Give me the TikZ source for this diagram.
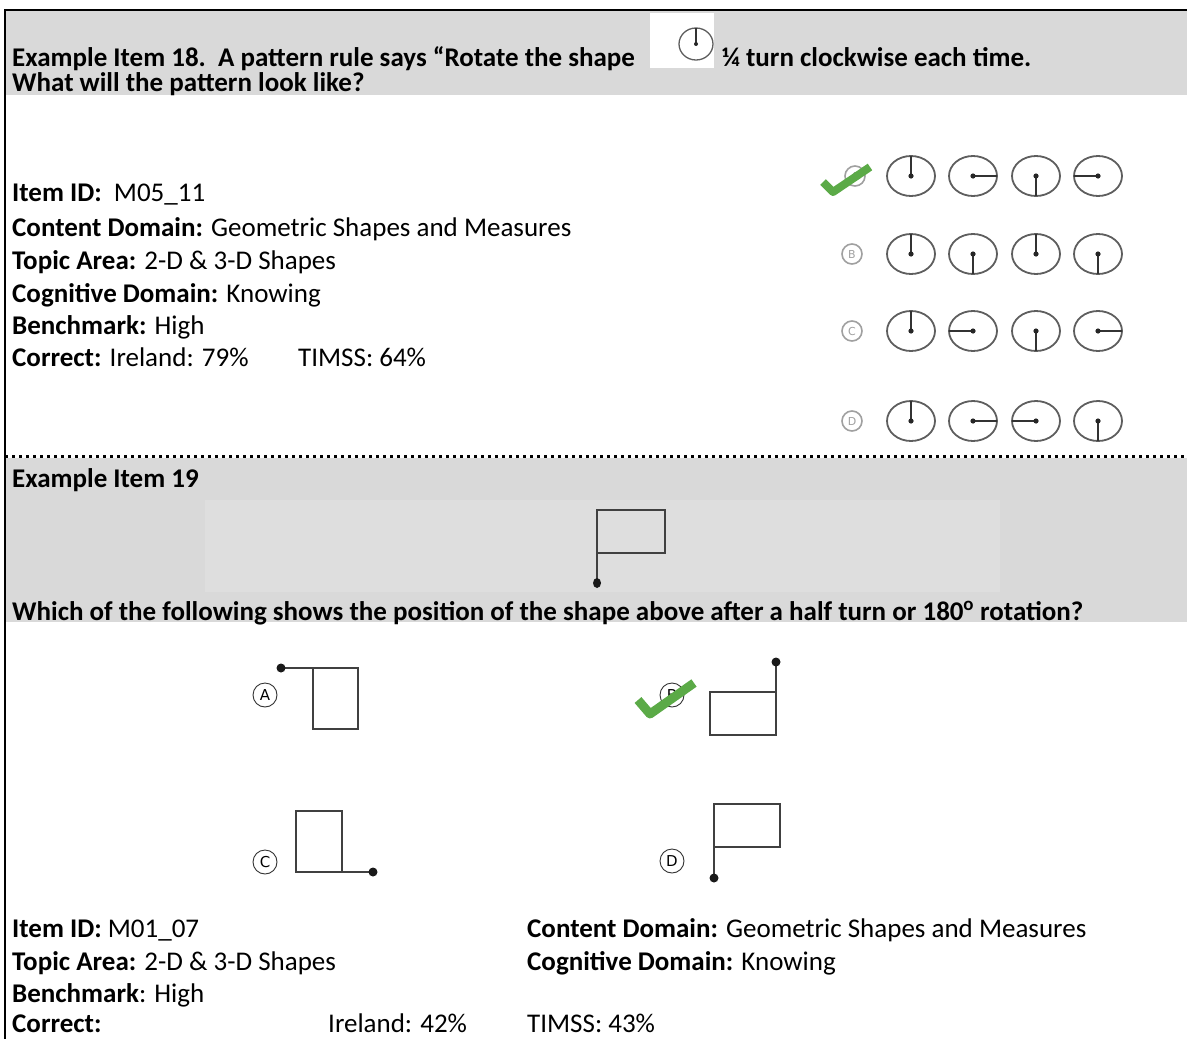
\documentclass[tikz,border=0pt]{standalone}
\usepackage{fontspec}
\setmainfont{Carlito}
\newfontfamily\optfont{DejaVu Sans}
\usetikzlibrary{calc}
\definecolor{band}{HTML}{D9D9D9}
\definecolor{inner}{HTML}{DEDEDE}
\definecolor{ink}{HTML}{000000}
\definecolor{clockgray}{HTML}{5E5E5E}
\definecolor{tick}{HTML}{5BAA47}
\definecolor{faint}{HTML}{A0A0A0}
\tikzset{
  txt/.style={anchor=base west, inner sep=0pt, text=ink,
    font=\fontsize{27}{30}\selectfont},
  hdr/.style={txt, font=\fontsize{27}{30}\selectfont\bfseries},
  face/.style={draw=clockgray, line width=1.8pt},
  hand/.style={draw=ink!80, line width=1.4pt},
  pin/.style={fill=ink!85},
  tickmark/.style={draw=tick, line width=8pt, line join=round},
  flag/.style={draw=ink!75, line width=1.2pt},
  flagdot/.style={fill=ink!90},
  optbig/.style={circle, draw=ink!80, line width=0.9pt, inner sep=0pt,
    minimum size=24pt, font=\optfont\fontsize{15}{15}\selectfont},
  optsmall/.style={circle, draw=faint, line width=1.6pt, inner sep=0pt,
    minimum size=20pt, text=faint, font=\optfont\fontsize{11}{11}\selectfont}
}

\begin{document}
\begin{tikzpicture}[x=1pt, y=-1pt]
  \useasboundingbox (0,0) rectangle (1187,1039);

  % bands
  \fill[band] (5,11) rectangle (1187,95);
  \fill[band] (5,458) rectangle (1187,622);
  \fill[inner] (205,500) rectangle (1000,592);

  % frame
  \draw[ink, line width=2.5pt] (5,1039) -- (5,10) -- (1187,10);
  \draw[ink, line width=3pt, dash pattern=on 3pt off 4pt] (5,456) -- (1187,456);

  % item 18 header
  \node[hdr] (h18a) at (12,66) {Example Item 18.\ \ A pattern rule says “Rotate the shape};
  \fill[white] (650,13) rectangle (714,68);
  \coordinate (icon) at (696,44);
  \draw[face, line width=1.3pt] (icon) ellipse [x radius=17pt, y radius=16pt];
  \draw[hand] (icon) -- ++(90:16pt);
  \fill[pin] (icon) circle [radius=2pt];
  \node[hdr] (h18b) at (722,66) {¼ turn clockwise each time.};
  \node[hdr] (h18c) at (12,91) {What will the pattern look like?};

  % item 18 facts
  \node[txt] (id18)  at (12,201) {\textbf{Item ID:}\ \ M05\_11};
  \node[txt] (cd18)  at (12,236) {\textbf{Content Domain:} Geometric Shapes and Measures};
  \node[txt] (ta18)  at (12,269) {\textbf{Topic Area:} 2-D \& 3-D Shapes};
  \node[txt] (cg18)  at (12,302) {\textbf{Cognitive Domain:} Knowing};
  \node[txt] (bm18)  at (12,334) {\textbf{Benchmark:} High};
  \node[txt] (co18)  at (12,366) {\textbf{Correct:} Ireland: 79\%};
  \node[txt] (ts18)  at (298,366) {TIMSS: 64\%};

  % item 18 options
  \node[optsmall] (oA) at (855,176) {A};
  \node[optsmall] (oB) at (852,254) {B};
  \node[optsmall] (oC) at (852,331) {C};
  \node[optsmall] (oD) at (852,421) {D};
  \foreach \cy/\ha/\hb/\hc/\hd in {176/90/0/270/180, 254/90/270/90/270,
                                   331/90/180/270/0, 421/90/0/180/270} {
    \foreach \cx/\a in {911/\ha, 973/\hb, 1036/\hc, 1098/\hd} {
      \draw[face] (\cx,\cy) ellipse [x radius=24pt, y radius=20pt];
      \draw[hand] (\cx,\cy) -- ++(\a:24pt and 20pt);
      \fill[pin] (\cx,\cy) circle [radius=2.6pt];
    }
  }
  \draw[tickmark] (823,182) -- (833,192) -- (870,167);

  % item 19 header
  \node[hdr] (h19a) at (12,487) {Example Item 19};
  \draw[flag] (597,553) rectangle (665,510);
  \draw[flag] (597,553) -- (597,583);
  \fill[flagdot] (597,583) ellipse [x radius=4pt, y radius=5pt];
  \node[hdr] (h19b) at (12,620)
    {Which of the following shows the position of the shape above after a half turn or 180\textsuperscript{o} rotation?};

  % item 19 options
  \node[optbig] (qA) at (265,695) {A};
  \draw[flag] (313,668) rectangle (358,729);
  \draw[flag] (281,668) -- (313,668);
  \fill[flagdot] (281,668) circle [radius=4.5pt];

  \node[optbig] (qB) at (672,695) {B};
  \draw[flag] (710,692) rectangle (776,735);
  \draw[flag] (776,692) -- (776,662);
  \fill[flagdot] (776,662) circle [radius=4.5pt];
  \draw[tickmark, line width=9pt] (638,700) -- (650,714) -- (694,683);

  \node[optbig] (qC) at (265,862) {C};
  \draw[flag] (296,811) rectangle (342,872);
  \draw[flag] (342,872) -- (373,872);
  \fill[flagdot] (373,872) circle [radius=4.5pt];

  \node[optbig] (qD) at (672,861) {D};
  \draw[flag] (714,804) rectangle (780,847);
  \draw[flag] (714,847) -- (714,878);
  \fill[flagdot] (714,878) circle [radius=4.5pt];

  % item 19 facts
  \node[txt] (id19) at (12,937)  {\textbf{Item ID:} M01\_07};
  \node[txt] (cd19) at (527,937) {\textbf{Content Domain:} Geometric Shapes and Measures};
  \node[txt] (ta19) at (12,970)  {\textbf{Topic Area:} 2-D \& 3-D Shapes};
  \node[txt] (cg19) at (527,970) {\textbf{Cognitive Domain:} Knowing};
  \node[txt] (bm19) at (12,1002) {\textbf{Benchmark}: High};
  \node[txt] (co19) at (12,1032) {\textbf{Correct:}};
  \node[txt] (ir19) at (328,1032) {Ireland: 42\%};
  \node[txt] (ts19) at (527,1032) {TIMSS: 43\%};
\end{tikzpicture}
\end{document}
